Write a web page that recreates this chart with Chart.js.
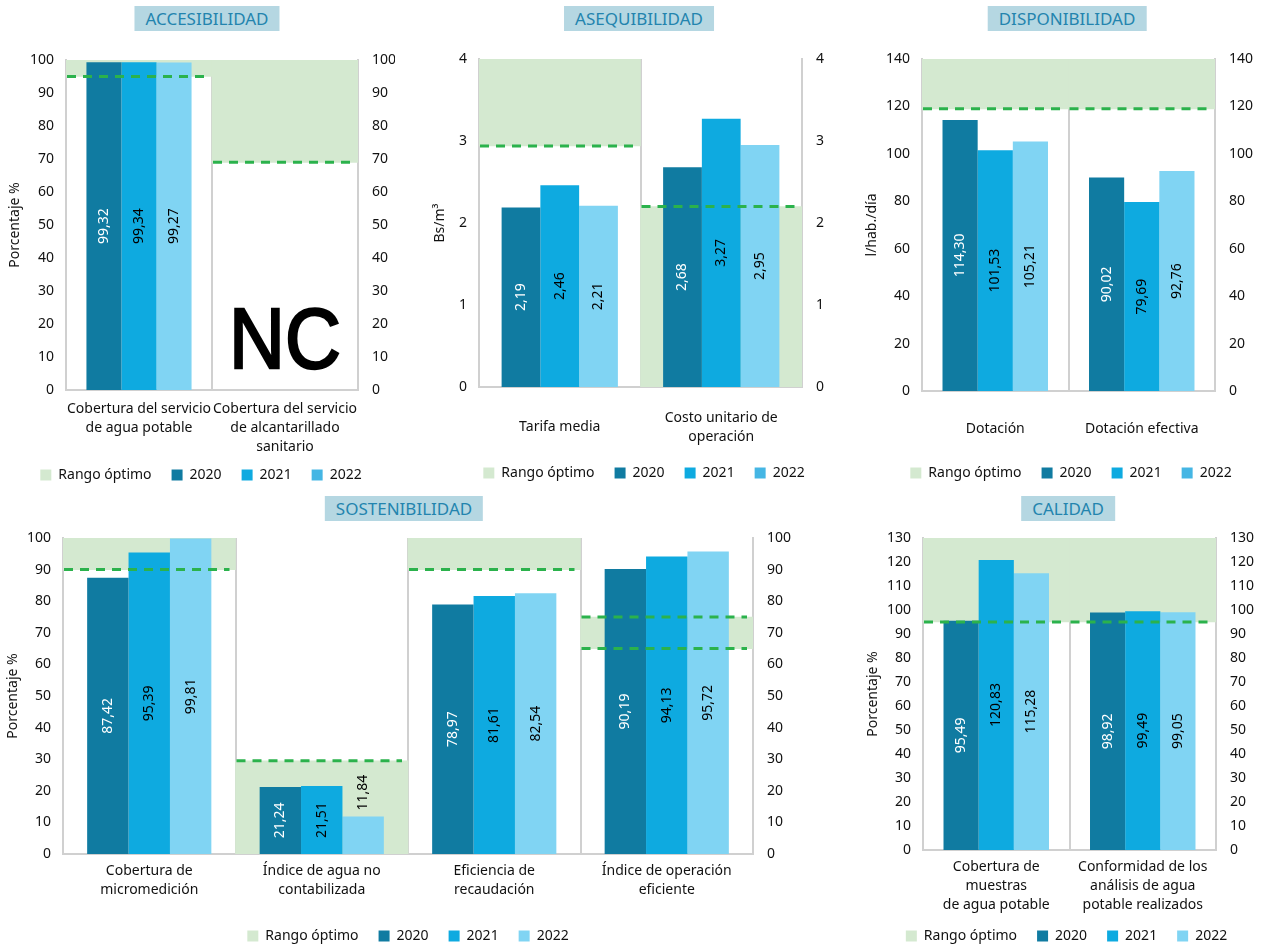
<!DOCTYPE html>
<html>
<head>
<meta charset="utf-8">
<script src="https://cdn.jsdelivr.net/npm/chart.js@4.4.1/dist/chart.umd.min.js"></script>
<style>
  body { margin: 0; width: 1263px; height: 947px; overflow: hidden; background: #fff; position: relative; font-family: "Noto Sans", sans-serif; }
  .badge { position: absolute; height: 25px; line-height: 25px; padding: 0 11px; background: #b5d7e2; color: #2384ae; font-size: 17px; transform: translateX(-50%); white-space: nowrap; }
  canvas { position: absolute; }
</style>
</head>
<body>
<div class="badge" style="left:207px; top:6px">ACCESIBILIDAD</div>
<div class="badge" style="left:639px; top:6px">ASEQUIBILIDAD</div>
<div class="badge" style="left:1067px; top:6px">DISPONIBILIDAD</div>
<div class="badge" style="left:404px; top:496px">SOSTENIBILIDAD</div>
<div class="badge" style="left:1068px; top:496px">CALIDAD</div>
<canvas id="acc"></canvas>
<canvas id="ase"></canvas>
<canvas id="dis"></canvas>
<canvas id="sos"></canvas>
<canvas id="cal"></canvas>
<script>
// Series shared by all panels
const years = ['2020', '2021', '2022'];

// ACCESIBILIDAD
const accLabels = [['Cobertura del servicio', 'de agua potable'], ['Cobertura del servicio', 'de alcantarillado', 'sanitario']];
const acc2020 = [99.32, null];
const acc2021 = [99.34, null];
const acc2022 = [99.27, null];
const accRange = [[95, 100], [69, 100]];
const accNoData = [false, true];

// ASEQUIBILIDAD
const aseLabels = ['Tarifa media', ['Costo unitario de', 'operación']];
const ase2020 = [2.19, 2.68];
const ase2021 = [2.46, 3.27];
const ase2022 = [2.21, 2.95];
const aseRange = [[2.94, 4], [0, 2.2]];

// DISPONIBILIDAD
const disLabels = ['Dotación', 'Dotación efectiva'];
const dis2020 = [114.30, 90.02];
const dis2021 = [101.53, 79.69];
const dis2022 = [105.21, 92.76];
const disRange = [[119, 140], [119, 140]];

// SOSTENIBILIDAD
const sosLabels = [['Cobertura de', 'micromedición'], ['Índice de agua no', 'contabilizada'], ['Eficiencia de', 'recaudación'], ['Índice de operación', 'eficiente']];
const sos2020 = [87.42, 21.24, 78.97, 90.19];
const sos2021 = [95.39, 21.51, 81.61, 94.13];
const sos2022 = [99.81, 11.84, 82.54, 95.72];
const sosRange = [[90, 100], [0, 29.5], [90, 100], [65, 75]];

// CALIDAD
const calLabels = [['Cobertura de', 'muestras', 'de agua potable'], ['Conformidad de los', 'análisis de agua', 'potable realizados']];
const cal2020 = [95.49, 98.92];
const cal2021 = [120.83, 99.49];
const cal2022 = [115.28, 99.05];
const calRange = [[95, 130], [95, 130]];

const yearColors = ['#107ba1', '#0eaae0', '#80d4f3'];
const valueColors = ['#ffffff', '#000000', '#000000'];
const rangeFill = '#d4e9d0';
const axisGray = '#d0d0d0';

Chart.defaults.font.family = '"Noto Sans", sans-serif';
Chart.defaults.font.size = 14;
Chart.defaults.color = '#111';

// dashed limits of the optimal range
const rangeLines = {
    id: 'rangeLines',
    afterDatasetsDraw(chart) {
        const y = chart.scales.y;
        const ctx = chart.ctx;
        chart.data.datasets.forEach((ds, i) => {
            if (!ds.isRange) return;
            ctx.save();
            ctx.strokeStyle = '#2bb24c';
            ctx.lineWidth = 3;
            ctx.setLineDash([9, 7]);
            chart.getDatasetMeta(i).data.forEach((bar, j) => {
                const x0 = bar.x - bar.width / 2 + 1;
                const x1 = bar.x + bar.width / 2 - 6;
                ds.data[j].forEach(v => {
                    if (v <= y.min || v >= y.max) return;
                    const py = y.getPixelForValue(v);
                    ctx.beginPath();
                    ctx.moveTo(x0, py);
                    ctx.lineTo(x1, py);
                    ctx.stroke();
                });
            });
            ctx.restore();
        });
    }
};

// rotated value labels inside the bars
const barValues = {
    id: 'barValues',
    afterDatasetsDraw(chart) {
        const ctx = chart.ctx;
        ctx.save();
        ctx.font = '14px "Noto Sans"';
        ctx.textAlign = 'center';
        ctx.textBaseline = 'middle';
        chart.data.datasets.forEach((ds, i) => {
            if (ds.isRange) return;
            chart.getDatasetMeta(i).data.forEach((bar, j) => {
                const v = ds.data[j];
                if (v == null) return;
                const txt = v.toFixed(2).replace('.', ',');
                const w = ctx.measureText(txt).width;
                let cy = (bar.y + bar.base) / 2;
                if (bar.base - bar.y < w + 8) cy = bar.y - 6 - w / 2; // too short: above the bar
                ctx.save();
                ctx.translate(bar.x, cy);
                ctx.rotate(-Math.PI / 2);
                ctx.fillStyle = ds.labelColor;
                ctx.fillText(txt, 0, 0);
                ctx.restore();
            });
        });
        ctx.restore();
    }
};

// big "NC" where there is no data
const noData = {
    id: 'noData',
    afterDatasetsDraw(chart) {
        const {ctx, chartArea, scales: {x}} = chart;
        chart.data.datasets.forEach(ds => {
            if (!ds.noData) return;
            ds.noData.forEach((flag, j) => {
                if (!flag) return;
                ctx.save();
                ctx.translate(x.getPixelForValue(j), chartArea.bottom - 22);
                ctx.scale(0.9, 1);
                ctx.font = '86px "Liberation Sans"';
                ctx.fillStyle = '#000';
                ctx.strokeStyle = '#000';
                ctx.lineWidth = 2.5;
                ctx.textAlign = 'center';
                ctx.textBaseline = 'alphabetic';
                ctx.fillText('NC', 0, 0);
                ctx.strokeText('NC', 0, 0);
                ctx.restore();
            });
        });
    }
};

function yAxis(p, side) {
    return {
        position: side,
        min: 0,
        max: p.max,
        z: 1,
        ticks: { stepSize: p.step, padding: side === 'left' ? 12 : 14, color: '#111' },
        grid: { display: false, drawTicks: false },
        border: { color: axisGray, width: 2 },
        title: { display: side === 'left', text: p.title, padding: 0, color: '#111' },
        afterFit: s => { s.width = side === 'left' ? p.wL : p.wR; }
    };
}

function drawPanel(p) {
    const cv = document.getElementById(p.id);
    cv.width = p.box[2];
    cv.height = p.box[3];
    cv.style.left = p.box[0] + 'px';
    cv.style.top = p.box[1] + 'px';

    const datasets = [{
        label: 'Rango óptimo',
        data: p.range,
        backgroundColor: rangeFill,
        grouped: false,
        barPercentage: 1,
        categoryPercentage: 1,
        order: 2,
        isRange: true,
        noData: p.noData
    }];
    years.forEach((yr, k) => datasets.push({
        label: yr,
        data: p.series[k],
        backgroundColor: yearColors[k],
        labelColor: valueColors[k],
        barPercentage: 1,
        categoryPercentage: 0.72,
        order: 1
    }));

    // lets the legend sit a little higher than its box when the tick labels need room
    const legendShift = {
        id: 'legendShift',
        afterLayout(chart) {
            const dy = p.legendDy || 0;
            chart.legend.top += dy;
            chart.legend.bottom += dy;
        }
    };

    new Chart(cv, {
        type: 'bar',
        data: { labels: p.labels, datasets },
        plugins: [rangeLines, barValues, noData, legendShift],
        options: {
            responsive: false,
            animation: false,
            layout: { padding: p.pad },
            scales: {
                x: {
                    z: 1,
                    grid: { offset: true, color: axisGray, lineWidth: 2, drawTicks: false },
                    border: { color: axisGray, width: 2 },
                    ticks: {
                        padding: p.xPad, crossAlign: p.cross, maxRotation: 0, autoSkip: false,
                        color: '#111', font: { size: 14, lineHeight: 1.33 }
                    },
                    afterFit: s => { s.height = p.xH; }
                },
                y: yAxis(p, 'left'),
                y2: yAxis(p, 'right')
            },
            plugins: {
                tooltip: { enabled: false },
                legend: {
                    position: 'bottom',
                    labels: {
                        boxWidth: 11, boxHeight: 11, padding: 20, color: '#111',
                        font: { size: 14 },
                        sort: (a, b) => a.datasetIndex - b.datasetIndex,
                        generateLabels: chart => {
                            const items = Chart.defaults.plugins.legend.labels.generateLabels(chart);
                            if (p.swatch2022) items.forEach(it => { if (it.text === '2022') it.fillStyle = p.swatch2022; });
                            return items;
                        }
                    }
                }
            }
        }
    });
}

const panels = [
    { id: 'acc', box: [0, 20, 425, 480], pad: { top: 40, left: 7, right: 30, bottom: 0 }, wL: 59, wR: 37, xH: 66, xPad: 10, cross: 'near', legendDy: -8, swatch2022: '#45b6e4',
      max: 100, step: 10, title: 'Porcentaje %', labels: accLabels, series: [acc2020, acc2021, acc2022], range: accRange, noData: accNoData },
    { id: 'ase', box: [425, 20, 455, 470], pad: { top: 39, left: 7, right: 24, bottom: 0 }, wL: 47, wR: 54, xH: 59, xPad: 31, cross: 'center', swatch2022: '#45b6e4',
      max: 4, step: 1, title: 'Bs/m³', labels: aseLabels, series: [ase2020, ase2021, ase2022], range: aseRange },
    { id: 'dis', box: [856, 20, 434, 470], pad: { top: 39, left: 8, right: 12, bottom: 0 }, wL: 58, wR: 63, xH: 55, xPad: 29, cross: 'near', swatch2022: '#45b6e4',
      max: 140, step: 20, title: 'l/hab./día', labels: disLabels, series: [dis2020, dis2021, dis2022], range: disRange },
    { id: 'sos', box: [0, 498, 835, 455], pad: { top: 40, left: 5, right: 24, bottom: 0 }, wL: 58, wR: 58, xH: 55, xPad: 8, cross: 'near',
      max: 100, step: 10, title: 'Porcentaje %', labels: sosLabels, series: [sos2020, sos2021, sos2022], range: sosRange },
    { id: 'cal', box: [850, 498, 440, 462], pad: { top: 40, left: 15, right: 22, bottom: 0 }, wL: 58, wR: 52, xH: 66, xPad: 8, cross: 'near', legendDy: -7,
      max: 130, step: 10, title: 'Porcentaje %', labels: calLabels, series: [cal2020, cal2021, cal2022], range: calRange }
];

panels.forEach(drawPanel);
</script>
</body>
</html>
